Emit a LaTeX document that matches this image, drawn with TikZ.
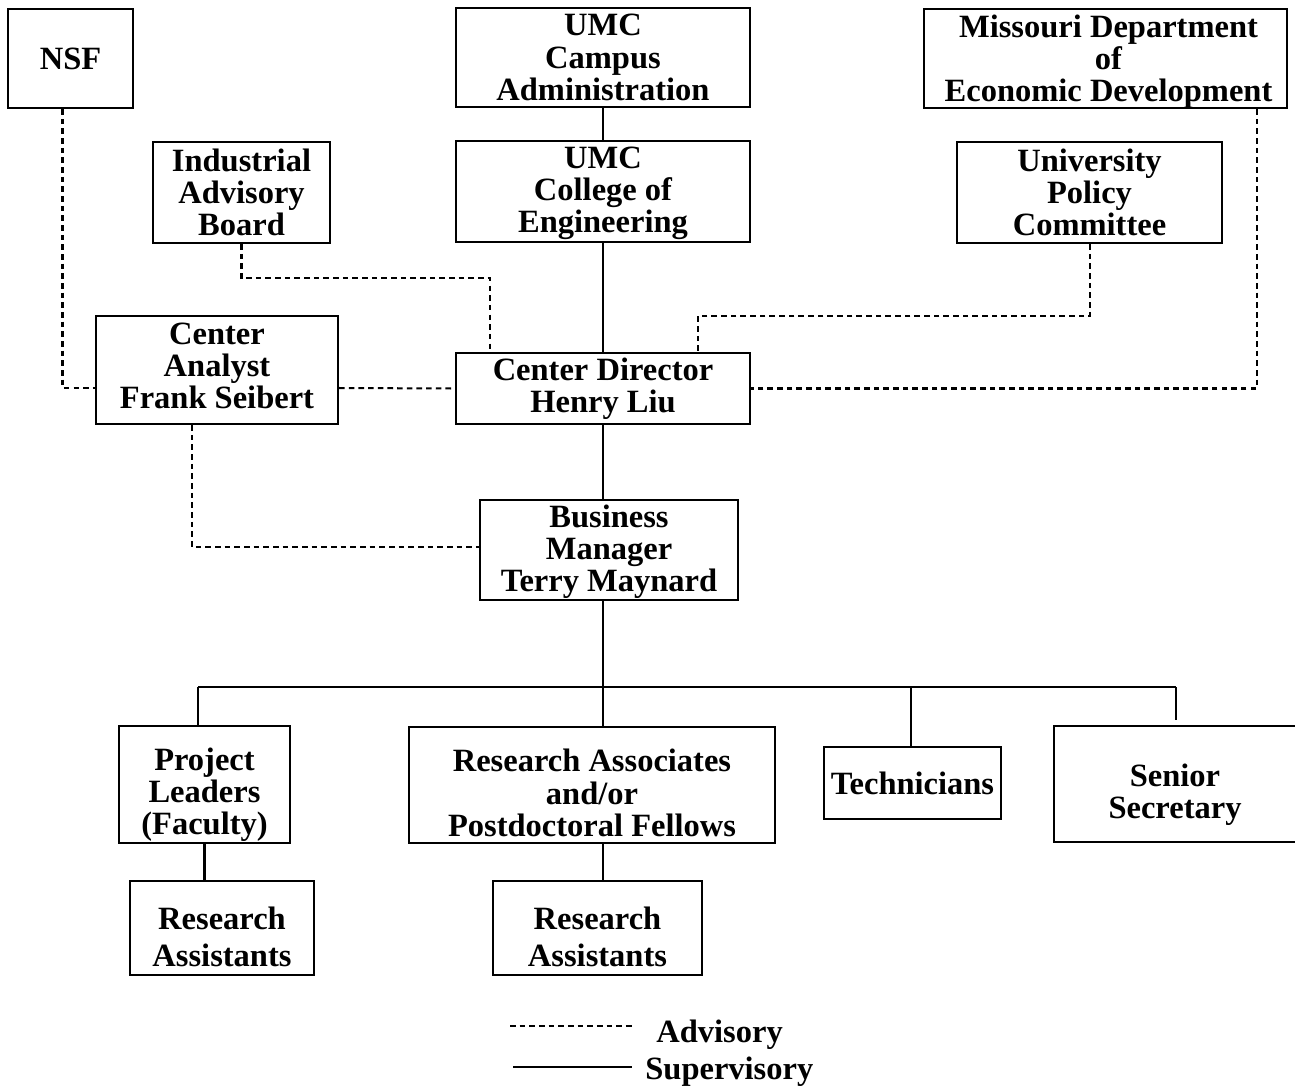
\documentclass[tikz,border=0pt]{standalone}
\usepackage{fontspec}
\setmainfont{Liberation Serif}
\usetikzlibrary{calc}
\begin{document}
\begin{tikzpicture}[x=0.02cm,y=-0.02cm,
  txt/.style={font=\fontsize{18.5}{18.3}\selectfont\bfseries},
  box/.style={draw, line width=1.3pt, align=center, inner sep=0pt, txt},
  lbl/.style={align=center, inner sep=0pt, txt},
  supline/.style={line width=1.15pt},
  advline/.style={line width=1.15pt, dash pattern=on 3.2pt off 2.3pt}]
\useasboundingbox (0,0) rectangle (1295,1089);

% top row
\node[box, minimum width=2.50cm, minimum height=1.98cm] (nsf) at (70.5,58.5) {NSF};
\node[box, minimum width=5.88cm, minimum height=1.98cm] (campus) at (603,57.5) {UMC\\Campus\\Administration};
\node[box, minimum width=7.26cm, minimum height=1.98cm] (mo) at (1105.5,58.5) {};
\node[lbl] (moT) at ($(mo)+(3,3)$) {Missouri Department\\of\\Economic Development};
% second row
\node[box, minimum width=3.54cm, minimum height=2.02cm] (ind) at (241.5,192.5) {Industrial\\Advisory\\Board};
\node[box, minimum width=5.88cm, minimum height=2.02cm] (college) at (603,191.5) {};
\node[lbl] (collegeT) at ($(college)+(0,2)$) {UMC\\College of\\Engineering};
\node[box, minimum width=5.30cm, minimum height=2.02cm] (upc) at (1089.5,192.5) {University\\Policy\\Committee};
% third row
\node[box, minimum width=4.84cm, minimum height=2.16cm] (ana) at (217,370) {};
\node[lbl] (anaT) at ($(ana)+(0,-4)$) {Center\\Analyst\\Frank Seibert};
\node[box, minimum width=5.88cm, minimum height=1.42cm] (dir) at (603,388.5) {Center Director\\Henry Liu};
\node[box, minimum width=5.16cm, minimum height=2.00cm] (bus) at (609,550) {};
\node[lbl] (busT) at ($(bus)+(0,2)$) {Business\\Manager\\Terry Maynard};
% staff row
\node[box, minimum width=3.42cm, minimum height=2.34cm] (proj) at (204.5,784.5) {};
\node[lbl] (projT) at ($(proj)+(0,10)$) {Project\\Leaders\\(Faculty)};
\node[box, minimum width=7.32cm, minimum height=2.32cm] (rassoc) at (592,785) {};
\node[lbl] (rassocT) at ($(rassoc)+(0,8)$) {Research Associates\\and/or\\Postdoctoral Fellows};
\node[box, minimum width=3.54cm, minimum height=1.44cm] (tech) at (912.5,783) {Technicians};
\node[box, minimum width=4.92cm, minimum height=2.32cm] (senior) at (1177,784) {};
\node[lbl] (seniorT) at ($(senior)+(-2,11)$) {Senior\\Secretary};
% assistants
\node[box, minimum width=3.68cm, minimum height=1.88cm] (ra1) at (222,928) {};
\node[lbl] (ra1T) at ($(ra1)+(0,9)$) {Research\\[3pt]Assistants};
\node[box, minimum width=4.18cm, minimum height=1.88cm] (ra2) at (597.5,928) {};
\node[lbl] (ra2T) at ($(ra2)+(0,9)$) {Research\\[3pt]Assistants};

% supervisory lines
\draw[supline] (campus) -- (college);
\draw[supline] (college) -- (dir);
\draw[supline] (dir.south) -- (dir.south |- bus.north);
\coordinate (barL) at (198,687);
\coordinate (barR) at (1176,687);
\draw[supline] (dir.south |- bus.south) -- (dir.south |- barL);
\draw[supline] (barL) -- (barR);
\draw[supline] (barL) -- (barL |- proj.north);
\draw[supline] (dir.south |- barL) -- (dir.south |- rassoc.north);
\draw[supline] ($(tech.north |- barL)+(-2,0)$) -- ($(tech.north)+(-2,0)$);
\draw[supline] (barR) -- ($(barR |- senior.north)+(0,-5)$);
\draw[supline] (proj.south) -- (proj.south |- ra1.north);
\draw[supline] (dir.south |- rassoc.south) -- (dir.south |- ra2.north);

% advisory lines
\draw[advline] ($(nsf.south)+(-8,0)$) |- ($(ana.west)+(0,18)$);
\draw[advline] ($(ana.east)+(0,18)$) -- (dir.west);
\draw[advline] (ind.south) -- ++(0,34) -| ($(dir.north)+(-113,0)$);
\draw[advline] (upc.south) -- ++(0,72) -| ($(dir.north)+(95,0)$);
\draw[advline] ($(mo.south)+(151.5,0)$) |- (dir.east);
\draw[advline] ($(ana.south)+(-25,0)$) |- ($(bus.west)+(0,-3)$);

% legend
\coordinate (la1) at (510,1026);
\coordinate (la2) at (632,1026);
\coordinate (ls1) at (513,1067);
\coordinate (ls2) at (632,1067);
\draw[advline] (la1) -- (la2);
\draw[supline] (ls1) -- (ls2);
\node[txt, anchor=base west, inner sep=0pt] (advlbl) at (656,1042) {Advisory};
\node[txt, anchor=base west, inner sep=0pt] (suplbl) at (645,1079) {Supervisory};
\end{tikzpicture}
\end{document}
